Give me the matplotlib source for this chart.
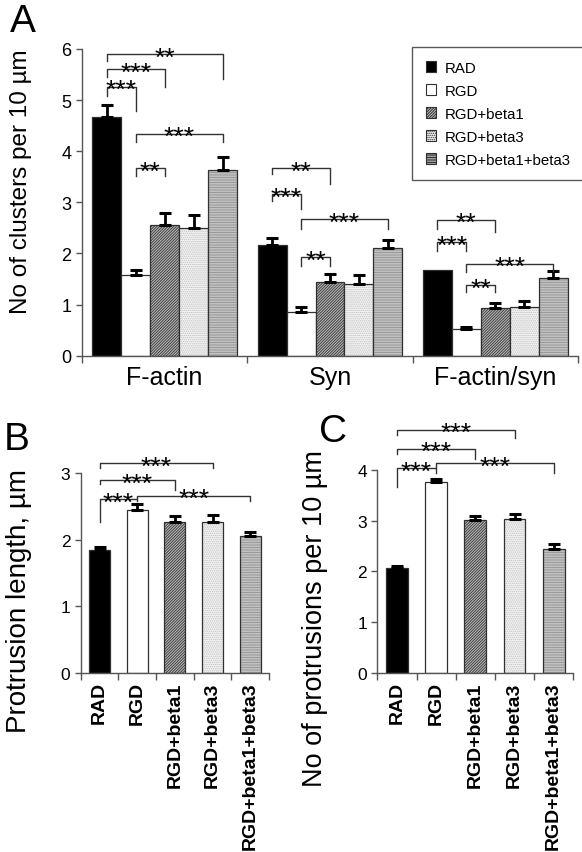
import matplotlib

matplotlib.use("Agg")
import matplotlib.pyplot as plt
from matplotlib.patches import Patch

plt.rcParams["font.family"] = ["Liberation Sans", "DejaVu Sans"]
plt.rcParams["hatch.linewidth"] = 0.7

conditions = ["RAD", "RGD", "RGD+beta1", "RGD+beta3", "RGD+beta1+beta3"]
groups = ["F-actin", "Syn", "F-actin/syn"]

# panel A: clusters per 10 um
factin_mean = [4.67, 1.57, 2.55, 2.50, 3.63]
factin_err = [0.23, 0.10, 0.24, 0.25, 0.26]
syn_mean = [2.17, 0.86, 1.44, 1.40, 2.11]
syn_err = [0.14, 0.09, 0.15, 0.18, 0.16]
ratio_mean = [1.68, 0.52, 0.93, 0.96, 1.53]
ratio_err = [0.0, 0.05, 0.10, 0.12, 0.13]

# panel B: protrusion length
length_mean = [1.84, 2.45, 2.26, 2.27, 2.06]
length_err = [0.05, 0.08, 0.09, 0.10, 0.06]

# panel C: protrusions per 10 um
protr_mean = [2.06, 3.75, 3.02, 3.04, 2.45]
protr_err = [0.05, 0.07, 0.08, 0.08, 0.08]

# significance: (group, bar i, bar j, top, left leg end, right leg end, label)
sig_a = [
    (0, 0, 1, 5.26, 5.08, 4.79, "***"),
    (0, 0, 2, 5.60, 5.45, 5.26, "***"),
    (0, 0, 4, 5.90, 5.77, 5.41, "**"),
    (0, 1, 4, 4.34, 4.18, 4.18, "***"),
    (0, 1, 2, 3.67, 3.52, 3.52, "**"),
    (1, 0, 2, 3.67, 3.55, 3.36, "**"),
    (1, 0, 1, 3.16, 3.03, 2.87, "***"),
    (1, 1, 4, 2.67, 2.48, 2.48, "***"),
    (1, 1, 2, 1.93, 1.76, 1.76, "**"),
    (2, 0, 2, 2.66, 2.48, 2.42, "**"),
    (2, 0, 1, 2.22, 2.05, 2.05, "***"),
    (2, 1, 4, 1.80, 1.64, 1.66, "***"),
    (2, 1, 2, 1.38, 1.25, 1.25, "**"),
]
sig_b = [
    (0, 3, 3.15, 3.08, 3.07, "***"),
    (0, 2, 2.89, 2.83, 2.75, "***"),
    (0, 1, 2.61, 2.27, 2.58, "***"),
    (1, 4, 2.66, 2.62, 2.58, "***"),
]
sig_c = [
    (0, 3, 4.79, 4.68, 4.62, "***"),
    (0, 2, 4.41, 4.31, 4.21, "***"),
    (0, 1, 4.03, 3.67, 3.94, "***"),
    (1, 4, 4.13, 4.06, 3.94, "***"),
]

faces = ["black", "white", "#bdbdbd", "#f4f4f4", "#d2d2d2"]
hatch_cols = ["black", "white", "#404040", "#c0c0c0", "#9a9a9a"]
hatches = [None, None, "/" * 12, "." * 8, "-" * 10]
AXC = "#555555"


def draw_bar(ax, x, h, w, k):
    ax.bar(x, h, w, color=faces[k], edgecolor=hatch_cols[k], hatch=hatches[k], linewidth=0)
    ax.bar(x, h, w, fill=False, edgecolor="#303030", linewidth=0.9)


def draw_err(ax, x, h, e, cap=4):
    if e <= 0:
        return
    ax.errorbar(x, h, yerr=[[0], [e]], fmt="none", ecolor="black", elinewidth=2.0,
                capsize=cap, capthick=2.2)


def bracket(ax, x1, x2, y, yl, yr, label, fs=19):
    ax.plot([x1, x1, x2, x2], [yl, y, y, yr], color="#333333", lw=1.0, clip_on=False)
    ax.annotate(label, ((x1 + x2) / 2, y), xytext=(0, -7.5), textcoords="offset points",
                ha="center", va="baseline", fontsize=fs, annotation_clip=False)


def style_axes(ax):
    for s in ["top", "right"]:
        ax.spines[s].set_visible(False)
    for s in ["left", "bottom"]:
        ax.spines[s].set_color(AXC)
        ax.spines[s].set_linewidth(1.0)
    ax.tick_params(axis="both", colors=AXC, length=4, width=1.0)


fig = plt.figure(figsize=(5.82, 8.53), dpi=100)

# ---- panel A
axA = fig.add_axes([0.1409, 0.5818, 0.8521, 0.3596])
bw = 0.175
group_means = [factin_mean, syn_mean, ratio_mean]
group_errs = [factin_err, syn_err, ratio_err]


def xa(g, i):
    return g + 0.0625 + bw * (i + 0.5)


for g in range(3):
    for i in range(5):
        draw_bar(axA, xa(g, i), group_means[g][i], bw, i)
        draw_err(axA, xa(g, i), group_means[g][i], group_errs[g][i], cap=4.5)
for g, i, j, y, yl, yr, lab in sig_a:
    bracket(axA, xa(g, i), xa(g, j), y, yl, yr, lab)
axA.set_xlim(0, 3)
axA.set_ylim(0, 6)
style_axes(axA)
axA.set_xticks([0.5, 1.5, 2.5])
axA.set_xticklabels(groups, fontsize=18, color="black")
axA.tick_params(axis="x", length=0, pad=7)
axA.set_xticks([0, 1, 2, 3], minor=True)
axA.tick_params(axis="x", which="minor", length=5, colors=AXC, width=1.0)
axA.set_yticks(range(7))
axA.tick_params(axis="y", labelsize=13, labelcolor="black")
axA.set_ylabel("No of clusters per 10 \u00b5m", fontsize=17.5)
axA.yaxis.set_label_coords(-0.1, 0.57)

handles = [Patch(facecolor=faces[k], edgecolor="#303030", hatch=hatches[k], linewidth=0.8)
           for k in range(5)]
leg = axA.legend(handles, conditions, loc="upper left", bbox_to_anchor=(0.708, 0.9437),
                 bbox_transform=fig.transFigure, fontsize=10.8, frameon=True, fancybox=False,
                 edgecolor="#303030", handlelength=0.7, handleheight=0.7, handletextpad=0.6,
                 labelspacing=0.6, borderpad=0.9, borderaxespad=0)
leg.get_frame().set_linewidth(1.0)

fig.text(0.017, 0.995, "A", fontsize=28, va="top", ha="left")

# ---- panels B and C
cats_x = list(range(5))


def small_panel(rect, means, errs, sigs, ymax, ylabel, lab_fs, letter, letter_pos, ylab_xy):
    ax = fig.add_axes(rect)
    for i in cats_x:
        draw_bar(ax, i, means[i], 0.56, i)
        draw_err(ax, i, means[i], errs[i], cap=4)
    for i, j, y, yl, yr, lab in sigs:
        bracket(ax, i, j, y, yl, yr, lab)
    ax.set_xlim(-0.5, 4.5)
    ax.set_ylim(0, ymax)
    style_axes(ax)
    ax.set_xticks(cats_x)
    ax.set_xticklabels(conditions, rotation=90, fontsize=14, fontweight="bold", color="black")
    ax.tick_params(axis="x", length=0, pad=6)
    ax.set_xticks([k - 0.5 for k in range(6)], minor=True)
    ax.tick_params(axis="x", which="minor", length=5, colors=AXC, width=1.0)
    ax.set_yticks(range(ymax + 1))
    ax.tick_params(axis="y", labelsize=12.5, labelcolor="black")
    ax.set_ylabel(ylabel, fontsize=lab_fs)
    ax.yaxis.set_label_coords(*ylab_xy)
    fig.text(letter_pos[0], letter_pos[1], letter, fontsize=28, va="top", ha="left")
    return ax


small_panel([0.1387, 0.2098, 0.3235, 0.2345], length_mean, length_err, sig_b, 3,
            "Protrusion length, \u00b5m", 20, "B", (0.006, 0.505), (-0.26, 0.365))
small_panel([0.6483, 0.2098, 0.3368, 0.2383], protr_mean, protr_err, sig_c, 4,
            "No of protrusions per 10 \u00b5m", 19.5, "C", (0.548, 0.515), (-0.25, 0.275))

fig.savefig("out.png", dpi=100)
plt.close(fig)
